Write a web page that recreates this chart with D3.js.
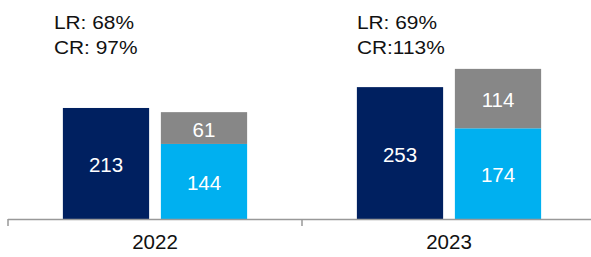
<!DOCTYPE html>
<html>
<head>
  <meta http-equiv="Content-Type" content="text/html;charset=utf-8" />
  <style type="text/css">
    body { margin: 0; background: #fff; }
    text { font-family: "Liberation Sans", Arial, sans-serif; }
  </style>
</head>
<body>
  <div id="chart"></div>
  <script src="https://d3js.org/d3.v7.min.js"></script>
  <script type="text/javascript">
    var categories = ["2022", "2023"];
    var totalValues = [213, 253];
    var lowerValues = [144, 174];
    var upperValues = [61, 114];
    var lrLabels = ["LR: 68%", "LR: 69%"];
    var crLabels = ["CR: 97%", "CR:113%"];

    var w = 591, h = 257;
    var baseY = 219;

    var svg = d3.select("#chart").append("svg")
      .attr("width", w)
      .attr("height", h);

    // category bands (the right one runs past the edge)
    var x0 = d3.scaleBand().domain(categories).range([8, 596]).padding(0);
    var x1 = d3.scaleBand().domain(["total", "split"])
      .range([0, x0.bandwidth()])
      .paddingInner(0.12)
      .paddingOuter(0.56);
    var y = d3.scaleLinear().domain([0, 400]).range([baseY, baseY - 208.5]);

    var groups = svg.selectAll("g.grp")
      .data(categories)
      .enter().append("g")
      .attr("class", "grp")
      .attr("transform", function (d) { return "translate(" + x0(d) + ",0)"; });

    // total bar
    groups.append("rect")
      .attr("x", x1("total"))
      .attr("width", x1.bandwidth())
      .attr("y", function (d, i) { return y(totalValues[i]); })
      .attr("height", function (d, i) { return y(0) - y(totalValues[i]); })
      .attr("fill", "#002060");

    // stacked: lower part
    groups.append("rect")
      .attr("x", x1("split"))
      .attr("width", x1.bandwidth())
      .attr("y", function (d, i) { return y(lowerValues[i]); })
      .attr("height", function (d, i) { return y(0) - y(lowerValues[i]); })
      .attr("fill", "#00B0F0");

    // stacked: upper part
    groups.append("rect")
      .attr("x", x1("split"))
      .attr("width", x1.bandwidth())
      .attr("y", function (d, i) { return y(lowerValues[i] + upperValues[i]); })
      .attr("height", function (d, i) { return y(lowerValues[i]) - y(lowerValues[i] + upperValues[i]); })
      .attr("fill", "#878787");

    var valStyle = function (sel) {
      sel.attr("fill", "#fff")
        .attr("font-size", "20.5px")
        .attr("text-anchor", "middle")
        .attr("dominant-baseline", "central");
    };

    groups.append("text")
      .attr("x", x1("total") + x1.bandwidth() / 2)
      .attr("y", function (d, i) { return (y(0) + y(totalValues[i])) / 2 + 1; })
      .text(function (d, i) { return totalValues[i]; })
      .call(valStyle);

    groups.append("text")
      .attr("x", x1("split") + x1.bandwidth() / 2)
      .attr("y", function (d, i) { return (y(0) + y(lowerValues[i])) / 2 + 1; })
      .text(function (d, i) { return lowerValues[i]; })
      .call(valStyle);

    groups.append("text")
      .attr("x", x1("split") + x1.bandwidth() / 2)
      .attr("y", function (d, i) { return (y(lowerValues[i]) + y(lowerValues[i] + upperValues[i])) / 2 + 1; })
      .text(function (d, i) { return upperValues[i]; })
      .call(valStyle);

    // ratio notes above each group (the source font is a bit wide)
    var noteShift = [-9, 0];
    groups.append("text")
      .attr("transform", function (d, i) { return "translate(" + (x1("total") + noteShift[i]) + ",29) scale(1.13,1)"; })
      .attr("font-size", "18.5px")
      .attr("fill", "#111")
      .text(function (d, i) { return lrLabels[i]; });
    groups.append("text")
      .attr("transform", function (d, i) { return "translate(" + (x1("total") + noteShift[i]) + ",54) scale(1.13,1)"; })
      .attr("font-size", "18.5px")
      .attr("fill", "#111")
      .text(function (d, i) { return crLabels[i]; });

    // axis: labels from d3 axis, separators at band edges
    var axis = svg.append("g")
      .attr("transform", "translate(0," + baseY + ")")
      .call(d3.axisBottom(x0).tickSize(0).tickPadding(15));
    axis.select(".domain").remove();
    axis.selectAll("text")
      .attr("font-size", "20.5px")
      .attr("fill", "#111")
      .attr("font-family", "Liberation Sans, Arial, sans-serif");

    svg.append("line")
      .attr("x1", x0.range()[0]).attr("x2", w)
      .attr("y1", baseY + 0.5).attr("y2", baseY + 0.5)
      .attr("stroke", "#999").attr("stroke-width", 1.5);

    svg.selectAll("line.sep")
      .data(categories)
      .enter().append("line")
      .attr("class", "sep")
      .attr("x1", function (d) { return x0(d); })
      .attr("x2", function (d) { return x0(d); })
      .attr("y1", baseY).attr("y2", baseY + 7)
      .attr("stroke", "#999").attr("stroke-width", 1.5);
  </script>
</body>
</html>
